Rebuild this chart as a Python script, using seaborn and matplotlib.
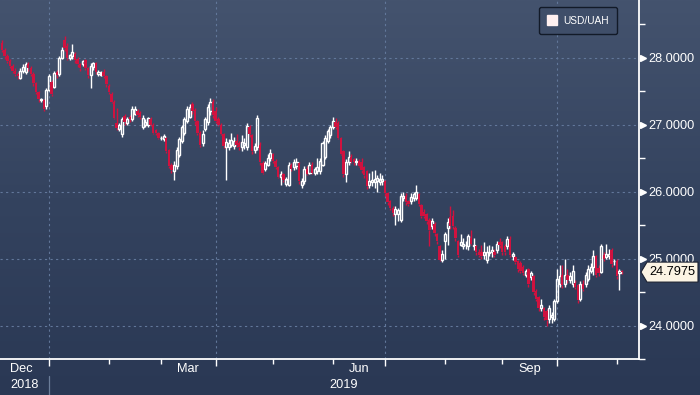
import numpy as np
import pandas as pd
import matplotlib
matplotlib.use("Agg")
import matplotlib.pyplot as plt
from matplotlib.colors import LinearSegmentedColormap
from matplotlib.patches import Polygon
from matplotlib.lines import Line2D
import seaborn as sns

# ---------------- data (USD/UAH daily candles) ----------------
start_date = "2018-12-06"
end_date = "2019-11-05"

open_ = [
    28.22, 28.12,
    28.02, 27.95, 27.88, 27.80, 27.76,
    27.70, 27.80, 27.78, 27.90, 27.84,
    27.76, 27.62, 27.48, 27.36, 27.36,
    27.28, 27.52, 27.64, 27.56, 27.78,
    27.76, 28.00, 28.26, 28.18, 28.00,
    28.03, 28.06, 27.98, 27.90, 27.90,
    27.96, 27.84, 27.74, 27.86, 27.92,
    27.75, 27.74, 27.78, 27.72, 27.58,
    27.46, 27.34, 27.03, 26.94, 26.86,
    27.13, 27.03, 27.12, 27.09, 27.16,
    27.20, 27.18, 26.97, 27.00, 27.00,
    27.08, 27.00, 26.92, 26.87, 26.80,
    26.78, 26.80, 26.62, 26.40, 26.30,
    26.38, 26.55, 26.75, 26.88, 27.05,
    27.12, 27.30, 27.22, 27.05, 26.88,
    26.72, 26.94, 27.04, 27.20, 27.34,
    27.20, 27.08, 27.00, 26.86, 26.66,
    26.66, 26.70, 26.68, 26.75, 26.72,
    26.66, 26.70, 26.66, 26.96, 26.84,
    26.62, 26.66, 26.70, 26.42, 26.34,
    26.40, 26.50, 26.56, 26.46, 26.36,
    26.22, 26.26, 26.12, 26.10, 26.40,
    26.36, 26.38, 26.42, 26.10, 26.16,
    26.34, 26.28, 26.40, 26.28, 26.30,
    26.30, 26.40, 26.52, 26.76, 26.84,
    26.96, 27.04, 27.02, 26.80, 26.60,
    26.26, 26.44, 26.52, 26.48, 26.44,
    26.46, 26.44, 26.36, 26.30, 26.10,
    26.14, 26.15, 26.16, 26.15, 26.16,
    26.16, 25.98, 25.86, 25.76, 25.66,
    25.66, 25.58, 25.90, 25.94, 25.86,
    25.86, 25.90, 25.90, 25.96, 25.80,
    25.70, 25.66, 25.58, 25.48, 25.52,
    25.36, 25.18, 24.98, 25.26, 25.46,
    25.62, 25.64, 25.46, 25.26, 25.20,
    25.19, 25.20, 25.18, 25.30, 25.18,
    25.18, 25.10, 25.10, 25.05, 24.98,
    25.08, 25.10, 25.10, 25.12, 25.25,
    25.24, 25.18, 25.18, 25.29, 25.04,
    25.02, 24.96, 24.94, 24.88, 24.75,
    24.84, 24.72, 24.74, 24.52, 24.42,
    24.26, 24.26, 24.22, 24.10, 24.12,
    24.10, 24.36, 24.62, 24.76, 24.62,
    24.75, 24.68, 24.62, 24.64, 24.60,
    24.40, 24.62, 24.62, 24.70, 24.82,
    24.88, 25.04, 24.86, 24.80, 25.06,
    25.03, 25.04, 25.12, 24.96, 24.97,
    24.79, 24.80,
]

high = [
    28.26, 28.15,
    28.06, 27.98, 27.90, 27.84, 27.79,
    27.84, 27.90, 27.93, 27.93, 27.87,
    27.78, 27.64, 27.50, 27.40, 27.38,
    27.55, 27.76, 27.66, 27.80, 27.82,
    28.03, 28.16, 28.32, 28.22, 28.06,
    28.20, 28.08, 28.01, 27.92, 27.97,
    27.98, 27.86, 27.92, 27.94, 27.94,
    27.82, 27.80, 27.83, 27.74, 27.60,
    27.48, 27.36, 27.25, 27.03, 27.12,
    27.16, 27.12, 27.14, 27.28, 27.28,
    27.23, 27.20, 27.14, 27.08, 27.12,
    27.12, 27.02, 26.94, 26.89, 26.83,
    26.86, 26.82, 26.64, 26.42, 26.45,
    26.66, 26.82, 27.00, 27.12, 27.28,
    27.30, 27.34, 27.25, 27.07, 26.90,
    26.92, 27.12, 27.30, 27.40, 27.38,
    27.26, 27.12, 27.02, 26.88, 26.80,
    26.78, 26.88, 26.82, 26.86, 26.76,
    26.84, 26.80, 27.02, 27.00, 26.86,
    26.72, 27.14, 26.74, 26.45, 26.46,
    26.56, 26.64, 26.58, 26.48, 26.38,
    26.30, 26.28, 26.22, 26.44, 26.42,
    26.48, 26.50, 26.44, 26.20, 26.38,
    26.38, 26.44, 26.44, 26.37, 26.50,
    26.50, 26.76, 26.84, 26.94, 27.00,
    27.12, 27.10, 27.05, 26.82, 26.62,
    26.48, 26.60, 26.56, 26.50, 26.50,
    26.48, 26.50, 26.38, 26.32, 26.28,
    26.30, 26.32, 26.25, 26.28, 26.24,
    26.18, 26.00, 25.88, 25.78, 25.78,
    25.76, 25.98, 26.00, 25.98, 25.88,
    25.98, 26.00, 26.10, 25.98, 25.82,
    25.74, 25.68, 25.60, 25.60, 25.54,
    25.38, 25.20, 25.12, 25.40, 25.60,
    25.78, 25.72, 25.48, 25.28, 25.36,
    25.30, 25.26, 25.36, 25.42, 25.30,
    25.20, 25.14, 25.20, 25.24, 25.18,
    25.20, 25.18, 25.14, 25.26, 25.30,
    25.26, 25.22, 25.34, 25.34, 25.10,
    25.04, 24.98, 24.97, 24.90, 24.84,
    24.86, 24.82, 24.76, 24.54, 24.44,
    24.40, 24.28, 24.24, 24.30, 24.20,
    24.40, 24.84, 24.90, 24.90, 25.00,
    24.84, 24.80, 24.90, 24.68, 24.62,
    24.66, 24.68, 24.80, 24.90, 24.94,
    25.12, 25.06, 24.90, 25.22, 25.10,
    25.22, 25.14, 25.16, 25.00, 25.00,
    24.84, 24.83,
]

low = [
    28.08, 27.98,
    27.92, 27.84, 27.77, 27.72, 27.68,
    27.68, 27.77, 27.76, 27.80, 27.72,
    27.58, 27.45, 27.34, 27.33, 27.20,
    27.24, 27.50, 27.42, 27.54, 27.70,
    27.72, 27.98, 28.10, 27.97, 27.97,
    27.98, 27.92, 27.86, 27.80, 27.88,
    27.82, 27.70, 27.54, 27.82, 27.75,
    27.72, 27.72, 27.70, 27.56, 27.45,
    27.32, 27.08, 26.92, 26.90, 26.82,
    27.00, 27.00, 27.04, 27.06, 27.14,
    27.11, 27.08, 26.94, 26.96, 26.97,
    26.98, 26.86, 26.84, 26.78, 26.77,
    26.75, 26.58, 26.35, 26.28, 26.18,
    26.34, 26.52, 26.72, 26.85, 27.02,
    27.10, 27.16, 27.00, 26.85, 26.66,
    26.68, 26.90, 27.00, 27.15, 27.10,
    27.02, 26.98, 26.84, 26.65, 26.18,
    26.62, 26.66, 26.64, 26.66, 26.62,
    26.60, 26.64, 26.62, 26.82, 26.56,
    26.58, 26.62, 26.40, 26.26, 26.30,
    26.38, 26.46, 26.42, 26.34, 26.20,
    26.10, 26.15, 26.08, 26.08, 26.30,
    26.32, 26.34, 26.12, 26.06, 26.12,
    26.24, 26.26, 26.26, 26.25, 26.26,
    26.26, 26.38, 26.48, 26.72, 26.80,
    26.94, 26.94, 26.78, 26.54, 26.22,
    26.14, 26.40, 26.42, 26.40, 26.40,
    26.36, 26.28, 26.20, 26.04, 26.06,
    26.08, 26.06, 26.00, 26.10, 26.10,
    25.94, 25.80, 25.72, 25.64, 25.50,
    25.56, 25.54, 25.86, 25.80, 25.78,
    25.82, 25.86, 25.88, 25.78, 25.60,
    25.60, 25.52, 25.18, 25.44, 25.34,
    25.22, 24.96, 24.95, 25.00, 25.20,
    25.44, 25.44, 25.26, 25.02, 25.18,
    25.14, 25.14, 25.12, 25.20, 25.12,
    25.06, 25.02, 25.00, 25.00, 24.94,
    25.04, 25.02, 25.02, 25.08, 25.16,
    25.06, 25.06, 25.14, 25.02, 24.98,
    24.92, 24.80, 24.78, 24.75, 24.72,
    24.58, 24.68, 24.46, 24.36, 24.22,
    24.22, 24.08, 24.00, 24.04, 24.04,
    24.06, 24.34, 24.58, 24.56, 24.58,
    24.64, 24.64, 24.58, 24.54, 24.34,
    24.36, 24.52, 24.58, 24.66, 24.78,
    24.76, 24.72, 24.74, 24.78, 24.96,
    25.00, 25.00, 24.88, 24.90, 24.70,
    24.53, 24.77,
]

close = [
    28.12, 28.02,
    27.95, 27.88, 27.80, 27.76, 27.72,
    27.80, 27.86, 27.90, 27.84, 27.76,
    27.62, 27.48, 27.38, 27.38, 27.24,
    27.52, 27.72, 27.46, 27.77, 27.74,
    28.00, 28.12, 28.14, 28.00, 28.04,
    28.08, 27.96, 27.90, 27.84, 27.95,
    27.84, 27.74, 27.88, 27.92, 27.78,
    27.78, 27.76, 27.72, 27.60, 27.48,
    27.34, 27.10, 26.95, 27.00, 27.08,
    27.04, 27.09, 27.08, 27.24, 27.24,
    27.14, 27.12, 27.10, 27.04, 27.10,
    27.00, 26.88, 26.87, 26.80, 26.80,
    26.83, 26.60, 26.38, 26.32, 26.40,
    26.62, 26.78, 26.96, 27.08, 27.24,
    27.26, 27.20, 27.05, 26.88, 26.70,
    26.86, 27.08, 27.26, 27.34, 27.14,
    27.06, 27.00, 26.86, 26.68, 26.74,
    26.72, 26.77, 26.76, 26.70, 26.66,
    26.74, 26.72, 26.98, 26.86, 26.60,
    26.68, 27.10, 26.44, 26.28, 26.42,
    26.50, 26.58, 26.45, 26.36, 26.22,
    26.26, 26.18, 26.18, 26.40, 26.34,
    26.44, 26.44, 26.16, 26.16, 26.34,
    26.26, 26.40, 26.28, 26.34, 26.36,
    26.46, 26.72, 26.80, 26.90, 26.96,
    27.06, 26.96, 26.80, 26.56, 26.26,
    26.44, 26.52, 26.44, 26.44, 26.46,
    26.38, 26.32, 26.24, 26.08, 26.16,
    26.17, 26.19, 26.20, 26.18, 26.19,
    25.98, 25.84, 25.76, 25.68, 25.74,
    25.72, 25.94, 25.94, 25.84, 25.82,
    25.92, 25.96, 26.00, 25.82, 25.64,
    25.64, 25.56, 25.42, 25.56, 25.38,
    25.26, 24.98, 25.07, 25.36, 25.54,
    25.48, 25.48, 25.30, 25.06, 25.24,
    25.22, 25.20, 25.34, 25.22, 25.20,
    25.10, 25.06, 25.04, 25.10, 25.10,
    25.10, 25.12, 25.06, 25.22, 25.20,
    25.10, 25.10, 25.29, 25.06, 25.07,
    24.95, 24.84, 24.82, 24.78, 24.81,
    24.62, 24.78, 24.50, 24.40, 24.26,
    24.30, 24.12, 24.08, 24.26, 24.16,
    24.36, 24.70, 24.74, 24.60, 24.76,
    24.68, 24.74, 24.82, 24.58, 24.38,
    24.62, 24.55, 24.76, 24.84, 24.88,
    25.04, 24.76, 24.78, 25.18, 25.00,
    25.07, 25.07, 24.92, 24.97, 24.74,
    24.81, 24.7975,
]

series_name = "USD/UAH"
y_ticks = [24.0, 25.0, 26.0, 27.0, 28.0]
month_labels = ["Dec", "Mar", "Jun", "Sep"]
year_labels = ["2018", "2019"]

# ---------------- frame ----------------
dates = pd.bdate_range(start_date, end_date)
n = min(len(dates), len(open_), len(high), len(low), len(close))
df = pd.DataFrame({
    "date": dates[:n],
    "open": open_[:n], "high": high[:n], "low": low[:n], "close": close[:n],
})
df["idx"] = np.arange(n)

sns.set_theme(style="dark", rc={
    "axes.facecolor": "none",
    "figure.facecolor": "#34435f",
    "axes.grid": False,
})
plt.rcParams["font.family"] = ["Liberation Sans", "DejaVu Sans"]
FS = 9.2

W, H = 700, 395
fig = plt.figure(figsize=(W / 100, H / 100), dpi=100)

# gradient background
bg = fig.add_axes([0, 0, 1, 1], zorder=-10)
cmap = LinearSegmentedColormap.from_list("bg", ["#2a3854", "#34435f", "#44536e"])
bg.imshow(np.linspace(0, 1, 256).reshape(-1, 1), aspect="auto", cmap=cmap,
          origin="lower", extent=[0, 1, 0, 1])
bg.set_axis_off()

ax_left, ax_right, ax_top, ax_bottom = 0, 639, 0, 359
ax = fig.add_axes([ax_left / W, 1 - ax_bottom / H,
                   (ax_right - ax_left) / W, (ax_bottom - ax_top) / H])
ax.set_facecolor("none")

ax.set_xlim(-0.81, 244.5)
ax.set_ylim(23.54, 28.86)

# ---------------- candles ----------------
RED = "#d0123f"
o = df["open"].to_numpy(); c = df["close"].to_numpy()
h = df["high"].to_numpy(); l = df["low"].to_numpy(); x = df["idx"].to_numpy()
up = c >= o
lo_b = np.minimum(o, c); hi_b = np.maximum(o, c)
wick_col = np.where(up, "white", RED)
ax.vlines(x, l, lo_b, colors=wick_col, linewidth=1.0, zorder=3)
ax.vlines(x, hi_b, h, colors=wick_col, linewidth=1.0, zorder=3)
ax.bar(x[up], (hi_b - lo_b)[up], bottom=lo_b[up], width=0.8,
       facecolor="none", edgecolor="white", linewidth=1.0, zorder=4)
dn = ~up
ax.bar(x[dn], np.maximum((hi_b - lo_b)[dn], 0.015), bottom=lo_b[dn], width=0.95,
       color=RED, linewidth=0, zorder=4)

# ---------------- axes styling ----------------
for s in ["left", "top"]:
    ax.spines[s].set_visible(False)
for s in ["right", "bottom"]:
    ax.spines[s].set_visible(True)
    ax.spines[s].set_color("white")
    ax.spines[s].set_linewidth(1.3)

grid_kw = dict(color="#62779a", linewidth=0.8, linestyle=(0, (2, 3)), zorder=1)
for yv in y_ticks:
    ax.axhline(yv, **grid_kw)

# month starts (index of first trading day of each month)
month_start = df.groupby(df["date"].dt.to_period("M"))["idx"].min()
month_idx = {str(k): v for k, v in month_start.items()}
quarter_starts = [month_idx[m] for m in ["2019-01", "2019-04", "2019-07", "2019-10"]]
other_starts = [month_idx[m] for m in ["2019-02", "2019-03", "2019-05", "2019-06",
                                         "2019-08", "2019-09", "2019-11"]]
for xv in quarter_starts:
    ax.axvline(xv, **grid_kw)

ax.set_xticks(quarter_starts)
ax.set_xticks(other_starts, minor=True)
ax.set_xticklabels([])
ax.tick_params(axis="x", which="major", direction="out", length=5, width=1,
               color="white", bottom=True)
ax.tick_params(axis="x", which="minor", direction="out", length=3.5, width=1,
               color="white", bottom=True)

ax.yaxis.tick_right()
ax.set_yticks(y_ticks)
ax.set_yticks([23.5, 24.5, 25.5, 26.5, 27.5, 28.5], minor=True)
ax.set_yticklabels([f"{v:.4f}" for v in y_ticks])
ax.tick_params(axis="y", which="major", length=0, pad=7, labelsize=FS,
               labelcolor="white", right=True, left=False)
ax.tick_params(axis="y", which="minor", direction="out", length=4, width=1,
               color="white", right=True, left=False)
ax.plot([1 + 4 / 639] * len(y_ticks), y_ticks, marker=">", markersize=4.5,
        linestyle="none", color="white", transform=ax.get_yaxis_transform(),
        clip_on=False, zorder=6)

# month / year labels below the axis
trans = ax.get_xaxis_transform()
month_keys = ["2018-12", "2019-03", "2019-06", "2019-09"]
next_keys = ["2019-01", "2019-04", "2019-07", "2019-10"]
for lab, mk, nk in zip(month_labels, month_keys, next_keys):
    s = -3 if mk == "2018-12" else month_idx[mk]
    xc = (s + month_idx[nk]) / 2
    ax.text(xc, -10 / 359, lab, transform=trans, ha="center", va="center",
            color="white", fontsize=FS)
xl = ax.get_xlim()
ax.text((xl[0] + month_idx["2019-01"]) / 2, -26 / 359, year_labels[0],
        transform=trans, ha="center", va="center", color="white", fontsize=FS)
ax.text((month_idx["2019-01"] + xl[1]) / 2, -26 / 359, year_labels[1],
        transform=trans, ha="center", va="center", color="white", fontsize=FS)
ax.add_line(Line2D([month_idx["2019-01"]] * 2, [-17 / 359, -36 / 359],
                   transform=trans, color="#6b7d99", linewidth=0.9, clip_on=False))

# legend
handle = Line2D([], [], marker="s", linestyle="none", markersize=7,
                markerfacecolor="#fff0f0", markeredgecolor="#fff0f0")
leg = ax.legend([handle], [series_name], loc="upper right",
                bbox_to_anchor=(617 / 639, 1 - 7 / 359), borderaxespad=0,
                fontsize=7.3, handlelength=0.8, handletextpad=0.7,
                borderpad=0.85, frameon=True, fancybox=True)
leg.get_frame().set_facecolor("#3f4e69")
leg.get_frame().set_edgecolor("#121a28")
leg.get_frame().set_linewidth(1.0)
leg.get_frame().set_alpha(1)
for t in leg.get_texts():
    t.set_color("white")

# last-price tag
last = df["close"].iloc[-1]
fig.canvas.draw()
_, ypix = ax.transData.transform((0, last))
yf = ypix / H
hh = 10 / H
pts = [(641 / W, yf), (647 / W, yf + hh), (698 / W, yf + hh),
       (698 / W, yf - hh), (647 / W, yf - hh)]
fig.patches.append(Polygon(pts, closed=True, transform=fig.transFigure,
                           facecolor="#fcf4e4", edgecolor="#1a2030", linewidth=0.8))
fig.text(672.5 / W, yf, f"{last:.4f}", ha="center", va="center",
         color="black", fontsize=FS)

fig.savefig("out.png", dpi=100)
